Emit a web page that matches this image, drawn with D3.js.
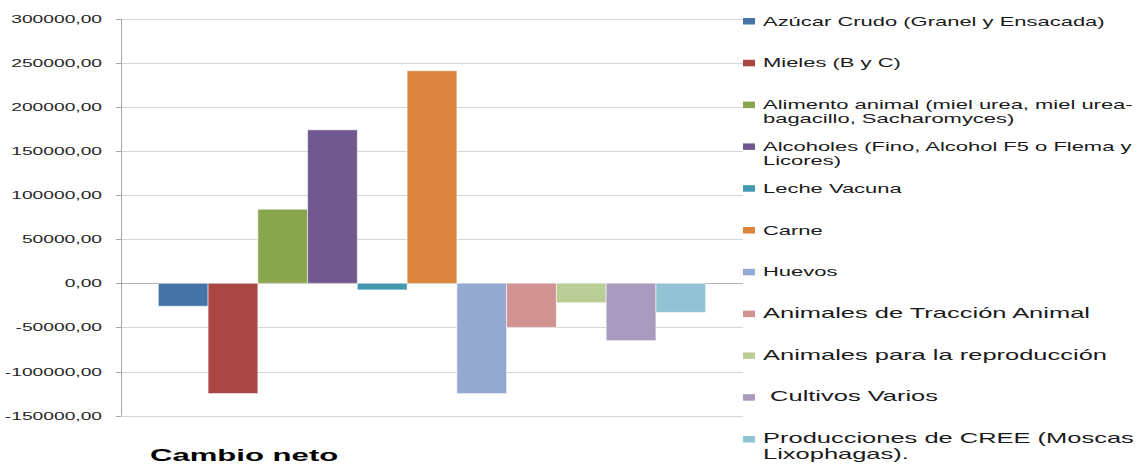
<!DOCTYPE html>
<html><head><meta charset="utf-8">
<script src="https://cdn.jsdelivr.net/npm/d3@7"></script>
<style>
html,body{margin:0;padding:0;background:#fff;}
svg{display:block;font-family:"Liberation Sans",Arial,sans-serif;}
text{white-space:pre;}
</style></head>
<body><svg id="chart" width="1136" height="464"></svg>
<script>
// ---- data ----
const categories = ["Cambio neto"];
const seriesNames = [
  "Azúcar Crudo (Granel y Ensacada)",
  "Mieles (B y C)",
  "Alimento animal (miel urea, miel urea-\nbagacillo, Sacharomyces)",
  "Alcoholes (Fino, Alcohol F5 o Flema y\nLicores)",
  "Leche Vacuna",
  "Carne",
  "Huevos",
  "Animales de Tracción Animal",
  "Animales para la reproducción",
  " Cultivos Varios",
  "Producciones de CREE (Moscas\nLixophagas)."
];
const seriesValues = [-26000, -125000, 84000, 174000, -7500, 241000, -125000, -50000, -22000, -65000, -33000];
const seriesColors = ["#4572A7","#AA4643","#89A54E","#71588F","#4198AF","#DB843D","#93A9CF","#D19392","#B9CD96","#A99BBD","#91C3D5"];
const yTicks = [-150000, -100000, -50000, 0, 50000, 100000, 150000, 200000, 250000, 300000];

// ---- layout ----
const SX = 1.83; // horizontal stretch of the original rendering
const plot = {left: 121, right: 743, top: 18.7, bottom: 415.6};
const svg = d3.select("#chart");

const y = d3.scaleLinear().domain([-150000, 300000]).range([plot.bottom, plot.top]);
const x0 = d3.scaleBand().domain(categories).range([plot.left, plot.right]).padding(0);
const gap = x0.bandwidth() * 1.5 / (seriesNames.length + 1.5);
const x1 = d3.scaleBand().domain(d3.range(seriesNames.length))
  .range([gap / 2, x0.bandwidth() - gap / 2]).padding(0);

const loc = d3.formatLocale({decimal: ",", thousands: ".", grouping: [3], currency: ["", ""], minus: "-"});
const fmt = loc.format(".2f");

// gridlines
svg.append("g").selectAll("line").data(yTicks).join("line")
  .attr("x1", plot.left).attr("x2", plot.right)
  .attr("y1", d => Math.round(y(d)) + 0.5).attr("y2", d => Math.round(y(d)) + 0.5)
  .attr("stroke", d => d === 0 ? "#b4b4b4" : "#d6d6d6").attr("stroke-width", 1);

// bars
const g = svg.append("g").attr("transform", `translate(${x0(categories[0])},0)`);
g.selectAll("rect").data(seriesValues).join("rect")
  .attr("x", (d, i) => x1(i))
  .attr("width", x1.bandwidth())
  .attr("y", d => y(Math.max(0, d)))
  .attr("height", d => Math.abs(y(d) - y(0)))
  .attr("fill", (d, i) => seriesColors[i])
  .attr("stroke", "rgba(255,255,255,0.55)").attr("stroke-width", 1);

// y axis
const axis = svg.append("g");
axis.append("line").attr("x1", plot.left + 0.5).attr("x2", plot.left + 0.5)
  .attr("y1", plot.top).attr("y2", plot.bottom).attr("stroke", "#a6a6a6");
axis.selectAll("line.tick").data(yTicks).join("line").attr("class", "tick")
  .attr("x1", plot.left - 5).attr("x2", plot.left)
  .attr("y1", d => Math.round(y(d)) + 0.5).attr("y2", d => Math.round(y(d)) + 0.5)
  .attr("stroke", "#a6a6a6");
axis.selectAll("text").data(yTicks).join("text")
  .attr("transform", d => `translate(102,${y(d) + 4}) scale(${SX},1)`)
  .attr("text-anchor", "end").attr("font-size", 10.5).attr("fill", "#262626")
  .text(d => fmt(d));

// category label
svg.append("text")
  .attr("transform", `translate(150,460.5) scale(${SX},1)`)
  .attr("font-size", 17).attr("font-weight", "bold").attr("fill", "#000")
  .text(categories[0]);

// legend
const leg = svg.append("g");
const legTop = 21, legStep = 41.8;
const items = leg.selectAll("g").data(seriesNames).join("g")
  .attr("transform", (d, i) => `translate(743,${legTop + i * legStep})`);
items.append("rect").attr("x", 0).attr("y", -3).attr("width", 12).attr("height", 6.5)
  .attr("fill", (d, i) => seriesColors[i]);
items.each(function(d, i) {
  const big = i >= 7;
  const lines = d.split("\n");
  const t = d3.select(this).append("text")
    .attr("transform", `translate(20,${big ? 4.2 : 4.6}) scale(${big ? 1.82 : SX},1)`)
    .attr("font-size", big ? 14 : 12).attr("fill", "#1a1a1a");
  lines.forEach((ln, k) => t.append("tspan").attr("x", 0)
    .attr("dy", k === 0 ? 0 : (big ? 16 : 14.2)).text(ln));
});
</script></body></html>
